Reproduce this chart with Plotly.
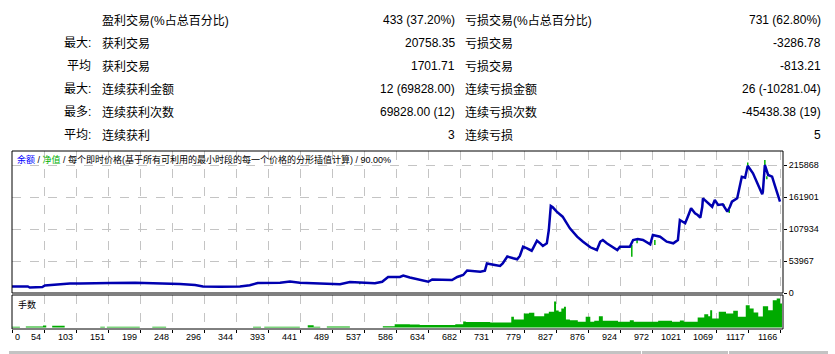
import plotly.graph_objects as go

# ---------------- data ----------------
row_left_prefix = ["", "最大:", "平均", "最大:", "最多:", "平均:"]
row_left_label = ["盈利交易(%占总百分比)", "获利交易", "获利交易", "连续获利金额", "连续获利次数", "连续获利"]
row_left_value = ["433 (37.20%)", "20758.35", "1701.71", "12 (69828.00)", "69828.00 (12)", "3"]
row_right_label = ["亏损交易(%占总百分比)", "亏损交易", "亏损交易", "连续亏损金额", "连续亏损次数", "连续亏损"]
row_right_value = ["731 (62.80%)", "-3286.78", "-813.21", "26 (-10281.04)", "-45438.38 (19)", "5"]

x_tick_labels = ["0", "54", "103", "151", "199", "248", "296", "344", "393", "441", "489", "537",
                 "586", "634", "682", "731", "779", "827", "876", "924", "972", "1021", "1069",
                 "1117", "1166"]
y_tick_values = [0, 53967, 107934, 161901, 215868]

bal_x = [0, 24, 27, 46, 50, 73, 88, 103, 126, 149, 187, 217, 232, 255, 278, 290, 316, 346, 361, 373,
         407, 422, 437, 468, 498, 513, 536, 551, 562, 571, 589, 594, 604, 619, 632, 638, 654, 668,
         676, 685, 691, 711, 718, 721, 733, 741, 745, 752, 761, 767, 771, 776, 782, 789, 791, 797,
         802, 806, 812, 815, 818, 821, 827, 832, 836, 847, 858, 867, 878, 888, 893, 897, 903, 919,
         923, 938, 943, 950, 958, 969, 973, 984, 994, 1004, 1011, 1014, 1022, 1026, 1031, 1037,
         1041, 1045, 1048, 1049, 1057, 1063, 1067, 1072, 1079, 1086, 1090, 1093, 1101, 1105, 1108,
         1113, 1117, 1125, 1133, 1139, 1140, 1143, 1148, 1154, 1158, 1166]
bal_y = [11000, 11000, 9300, 10100, 12650, 15200, 16000, 16000, 16900, 16900, 17400, 16900, 16400,
         15200, 13500, 11000, 10600, 11000, 13000, 16900, 17400, 19400, 17400, 15700, 14700, 18600,
         16900, 16400, 19000, 27000, 27000, 29500, 26100, 21900, 19000, 22800, 21900, 21900, 27000,
         30400, 37900, 35900, 37600, 49800, 47200, 45500, 49800, 61600, 58500, 56800, 62400, 78100,
         75400, 71300, 75400, 88200, 83800, 79300, 83800, 106200, 146700, 144500, 137100, 131500,
         128700, 109100, 95000, 86500, 77100, 72500, 86500, 89400, 83800, 72500, 78100, 78100, 89400,
         91100, 89400, 82100, 97800, 95000, 86500, 83800, 89400, 123100, 117600, 128700, 142800,
         134400, 131500, 127000, 145500, 159700, 151300, 145500, 156800, 148400, 149600, 137100,
         145500, 154000, 159700, 179300, 196100, 194500, 214700, 201900, 182100, 166500, 170800,
         215900, 199000, 196100, 182100, 154000]

# equity excursions (green spikes): trade index, balance at that point, equity extreme
eq_x = [191, 528, 894, 923, 941, 949, 976, 1081, 1089, 1117, 1143, 1146]
eq_base = [17400, 16900, 86500, 78100, 80900, 91100, 89400, 149600, 140000, 214700, 215900, 197000]
eq_tip = [18600, 14700, 89400, 75000, 61200, 84000, 81000, 145500, 135000, 220100, 224300, 192000]

vol_x = [0, 12, 21, 47, 52, 61, 80, 134, 141, 144, 194, 213, 234, 366, 378, 383, 437, 449, 458, 468,
         478, 513, 563, 581, 604, 619, 673, 685, 689, 726, 758, 762, 777, 785, 793, 808, 815, 823,
         826, 830, 834, 838, 841, 847, 859, 871, 878, 884, 891, 897, 920, 938, 944, 981, 1002, 1014,
         1020, 1041, 1051, 1057, 1060, 1063, 1073, 1084, 1095, 1102, 1114, 1120, 1126, 1133, 1140,
         1148, 1155, 1161, 1166, 1169]
vol_lots = [0.7, 0, 1, 2, 0, 1.7, 0, 0.7, 0, 0.7, 0, 0.7, 0, 0.7, 0, 0.7, 0, 2.3, 0.7, 0, 1, 0, 1.3,
            3.3, 3, 2.5, 3.3, 6, 5.5, 5, 10.7, 8, 14, 14.7, 11.3, 14, 15.7, 26, 17, 15.7, 19, 20.7,
            8, 7.3, 5.7, 10.7, 5.7, 6.7, 11.3, 6.7, 5.7, 7.3, 5.7, 6.7, 5.7, 7, 5.7, 10, 13.3, 11.3,
            17.3, 9, 15.7, 14, 16.7, 10.7, 22.3, 19, 15, 11, 21.3, 17.3, 27.3, 29, 24, 0]

# ---------------- geometry helpers ----------------
W, H = 835, 354
ML, MR, MT, MB = 12, 52, 151, 25
PW, PH = W - ML - MR, H - MT - MB
X_MAX = 1166 * 771 / 768


def px(x):
    return (x - ML) / PW


def py(y):
    return (H - MB - y) / PH


FONT = "Liberation Sans, Noto Sans CJK SC, sans-serif"
BLUE = "#0000b0"
GREEN = "#00aa00"
GRID = "#c4c4c4"

fig = go.Figure()

# equity spikes
sx, sy = [], []
for xv, b, t in zip(eq_x, eq_base, eq_tip):
    sx += [xv, xv, None]
    sy += [b, t, None]
fig.add_trace(go.Scatter(x=sx, y=sy, mode="lines", line=dict(color="#00b000", width=1.5),
                         xaxis="x", yaxis="y", hoverinfo="skip"))
# balance
fig.add_trace(go.Scatter(x=bal_x, y=bal_y, mode="lines", line=dict(color=BLUE, width=2.5),
                         xaxis="x", yaxis="y"))
# volume
fig.add_trace(go.Scatter(x=vol_x, y=vol_lots, mode="lines", line=dict(color=GREEN, width=0, shape="hv"),
                         fill="tozeroy", fillcolor=GREEN, xaxis="x2", yaxis="y2"))

tick_pos = [i * 1166 / 24 for i in range(len(x_tick_labels))]

main_bottom = py(293)
vol_top = py(295)

fig.update_layout(
    width=W, height=H, autosize=False,
    margin=dict(l=ML, r=MR, t=MT, b=MB, pad=0),
    paper_bgcolor="white", plot_bgcolor="white",
    showlegend=False,
    font=dict(family=FONT, size=9, color="black"),
    xaxis=dict(domain=[0, 1], range=[0, X_MAX], anchor="y", tickvals=tick_pos, showticklabels=False,
               showgrid=True, gridcolor=GRID, griddash="dash", gridwidth=1, zeroline=False,
               showline=False, ticks=""),
    yaxis=dict(domain=[main_bottom, 1], range=[0, (293 - 151) / 32 * 53967], side="right",
               anchor="x", tickvals=y_tick_values, ticktext=[str(v) for v in y_tick_values],
               ticks="outside", ticklen=3, tickcolor="black", showgrid=True, gridcolor=GRID,
               griddash="dash", zeroline=False, showline=False,
               tickfont=dict(family=FONT, size=9, color="black")),
    xaxis2=dict(domain=[0, 1], range=[0, X_MAX], anchor="y2", tickvals=tick_pos, showticklabels=False,
                showgrid=True, gridcolor=GRID, griddash="dash", zeroline=False, showline=False,
                ticks="outside", ticklen=3, tickcolor="black"),
    yaxis2=dict(domain=[0, vol_top], range=[-1.5, 32.5], anchor="x2", showgrid=False,
                showticklabels=False, zeroline=False, showline=False, ticks=""),
)

shapes = [
    dict(type="rect", xref="paper", yref="paper", x0=0, x1=1, y0=main_bottom, y1=1,
         line=dict(color="black", width=1)),
    dict(type="rect", xref="paper", yref="paper", x0=0, x1=1, y0=0, y1=vol_top,
         line=dict(color="black", width=1)),
]
# grey header strip at the bottom (next table, cut off)
segs = [(9, 59), (60, 217), (218, 298), (299, 350), (351, 407), (408, 485), (486, 562),
        (563, 640), (642, 727), (729, 827)]
for a, b in segs:
    shapes.append(dict(type="rect", xref="paper", yref="paper", x0=px(a), x1=px(b + 1),
                       y0=py(355), y1=py(351), line=dict(width=0), fillcolor="#c3c3c3"))
fig.update_layout(shapes=shapes)

ann = []
# table
row_y = [20, 43, 66, 89, 112, 135]
for i, yy in enumerate(row_y):
    if row_left_prefix[i]:
        ann.append(dict(x=px(93), y=py(yy), text=row_left_prefix[i], xanchor="right"))
    ann.append(dict(x=px(100), y=py(yy), text=row_left_label[i], xanchor="left"))
    ann.append(dict(x=px(457), y=py(yy), text=row_left_value[i], xanchor="right"))
    ann.append(dict(x=px(463), y=py(yy), text=row_right_label[i], xanchor="left"))
    ann.append(dict(x=px(823), y=py(yy), text=row_right_value[i], xanchor="right"))
for a in ann:
    a.update(xref="paper", yref="paper", yanchor="middle", showarrow=False,
             font=dict(family=FONT, size=12, color="black"))

# chart title
title = ('<span style="color:#0000ff">余额</span> / <span style="color:#00b000">净值</span> / '
         '每个即时价格(基于所有可利用的最小时段的每一个价格的分形插值计算) / 90.00%')
ann.append(dict(x=px(15), y=py(159), xref="paper", yref="paper", text=title, xanchor="left",
                yanchor="middle", showarrow=False, font=dict(family=FONT, size=9, color="black")))
ann.append(dict(x=px(16), y=py(304), xref="paper", yref="paper", text="手数", xanchor="left",
                yanchor="middle", showarrow=False, font=dict(family=FONT, size=9, color="black")))

# x tick labels
for i, (tp, lab) in enumerate(zip(tick_pos, x_tick_labels)):
    ann.append(dict(x=tp, xref="x2", y=py(337), yref="paper", text=lab,
                    xanchor="left" if i == 0 else "right", xshift=1 if i == 0 else -1,
                    yanchor="middle", showarrow=False,
                    font=dict(family=FONT, size=9, color="black")))

fig.update_layout(annotations=ann)

fig.write_html("out.html")
